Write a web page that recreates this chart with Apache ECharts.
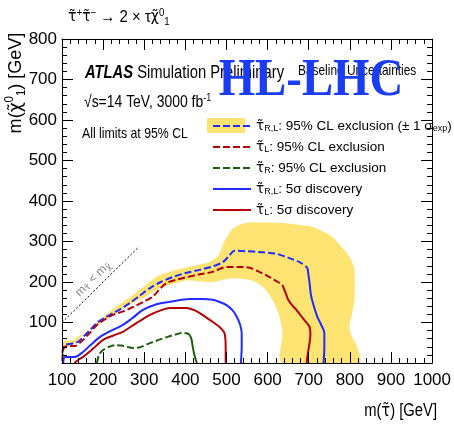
<!DOCTYPE html>
<html><head><meta charset="utf-8">
<script src="https://cdn.jsdelivr.net/npm/echarts@6/dist/echarts.min.js"></script>
<style>html,body{margin:0;padding:0;background:#fff}#c{width:454px;height:424px}</style>
</head><body><div id="c"></div>
<script>
// ---- tick labels ----
const xTickValues = [100, 200, 300, 400, 500, 600, 700, 800, 900, 1000];
const xTickLabels = ['100', '200', '300', '400', '500', '600', '700', '800', '900', '1000'];
const yTickValues = [0, 100, 200, 300, 400, 500, 600, 700, 800];
const yTickLabels = ['', '100', '200', '300', '400', '500', '600', '700', '800'];

// ---- yellow +-1 sigma band (outline, outer edge then inner edge) ----
const bandOuter = [[100,52],[112,55],[127,57],[145,70],[160,81],[185,100],[216,128],[250,152],[282,175],[310,198],[338,217],[370,228],[403,236],[435,243],[459,250],[480,265],[491,292],[505,318],[520,335],[549,346],[580,347],[629,346],[670,342],[709,336],[740,322],[758,311],[775,292],[792,272],[805,250],[811,230],[812,190],[811,156],[805,120],[799,89],[805,65],[818,40],[823,0]];
const bandInner = [[636,0],[636,74],[629,114],[616,148],[600,175],[588,188],[570,200],[556,205],[515,209],[490,205],[466,200],[435,201],[403,204],[370,195],[338,185],[300,162],[272,148],[245,132],[216,114],[190,96],[168,86],[150,70],[136,52],[120,42],[112,40],[100,35]];

// ---- tau_RL 95% CL exclusion (blue dashed) ----
const exclRL = [[101,25],[103,38],[108,45],[125,48],[140,53],[151,64],[168,81],[185,99],[205,112],[224,123],[245,135],[265,148],[290,167],[314,185],[340,200],[369,212],[400,222],[435,230],[465,238],[491,249],[505,263],[520,277],[550,276],[580,274],[620,270],[653,259],[680,248],[697,235]];
const exclRLTail = [[697,235],[702,198],[705,170],[708,156],[714,135],[721,114],[730,95],[738,74],[738,40],[736,0]];

// ---- tau_L 95% CL exclusion (red dashed) ----
const exclL = [[101,5],[102,25],[105,38],[115,42],[131,42],[151,57],[168,75],[185,94],[205,108],[224,119],[250,128],[272,138],[300,152],[321,164],[340,185],[355,198],[380,206],[403,212],[435,219],[466,225],[500,237],[530,237],[556,235],[580,225],[605,212],[625,200],[636,193]];
const exclLTail = [[636,193],[645,170],[650,156],[660,142],[670,131],[686,110],[702,89],[704,70],[702,49],[698,25],[695,0]];

// ---- tau_R 95% CL exclusion (green dashed) ----
const exclR = [[185,0],[190,20],[200,32],[214,40],[228,44],[245,43],[258,40],[272,37],[290,39],[314,49],[335,57],[355,64],[375,70],[394,74],[405,73],[411,69]];
const exclRTail = [[411,69],[415,58],[418,40],[422,20],[428,0]];

// ---- tau_RL 5 sigma discovery (blue solid) ----
const discRL = [[103,0],[104,10],[107,15],[131,15],[151,27],[170,45],[192,64],[220,80],[248,94],[270,110],[297,131],[330,145],[362,151],[411,158],[440,158],[466,156],[485,150],[500,143],[515,130],[525,114],[533,95],[537,74],[537,40],[535,0]];

// ---- tau_L 5 sigma discovery (red solid) ----
const discL = [[130,0],[140,8],[151,15],[175,35],[200,57],[225,68],[248,77],[280,98],[314,119],[340,130],[362,136],[403,136],[420,131],[435,123],[460,106],[483,89],[495,74],[498,40],[498,0]];

// ---- kinematic limit m(stau) = m(chi) ----
const diagonal = [[100,100],[285,285]];

const SANS = "'Liberation Sans',Arial,Helvetica,sans-serif";
const DJ = "'DejaVu Sans',sans-serif";
const BLUE = '#1f2bff', RED = '#b40000', GREEN = '#1d5f0c', YELLOW = '#fde372';
const DASH = [7, 3];
const SX = 0.82; // horizontal squeeze of the reference's lettering

const TAU = '{t|\u03C4\u0303}';
const CHI = '{t|\u03C7\u0303}';

const legendText = {
  exclRL: TAU + '{s|R,L}: 95% CL exclusion (\u00B1 1 \u03C3{s|exp})',
  exclL: TAU + '{s|L}: 95% CL exclusion',
  exclR: TAU + '{s|R}: 95% CL exclusion',
  discRL: TAU + '{s|R,L}: 5\u03C3 discovery',
  discL: TAU + '{s|L}: 5\u03C3 discovery'
};

function lineSeries(name, data, color, dashed, z) {
  return {
    type: 'line', name: name, data: data, showSymbol: false, symbol: 'none',
    smooth: 0.3, z: z || 3, silent: true,
    lineStyle: { color: color, width: 2, type: dashed ? DASH : 'solid' },
    itemStyle: { color: color }
  };
}

function axisCommon(extra) {
  return Object.assign({
    type: 'value', z: 6,
    axisLine: { show: true, onZero: false, lineStyle: { color: '#000', width: 1 } },
    axisTick: { show: true, inside: true, length: 11, lineStyle: { color: '#000' } },
    minorTick: { show: true, splitNumber: 5, length: 5, lineStyle: { color: '#000' } },
    splitLine: { show: false }
  }, extra);
}

const chart = echarts.init(document.getElementById('c'), null, { renderer: 'canvas' });
chart.setOption({
  animation: false,
  backgroundColor: '#fff',
  grid: { left: 62, right: 20, top: 39, bottom: 61, show: false },
  xAxis: [
    axisCommon({ position: 'bottom', min: 100, max: 1000, interval: 100,
      axisLabel: { margin: 9, fontSize: 17, fontFamily: SANS, color: '#000',
        formatter: v => { const i = xTickValues.indexOf(v); return i >= 0 ? xTickLabels[i] : ''; } } }),
    axisCommon({ position: 'top', min: 100, max: 1000, interval: 100, axisLabel: { show: false } })
  ],
  yAxis: [
    axisCommon({ position: 'left', min: 0, max: 800, interval: 100,
      axisLabel: { margin: 5, fontSize: 17, fontFamily: SANS, color: '#000',
        formatter: v => { const i = yTickValues.indexOf(v); return i >= 0 ? yTickLabels[i] : ''; } } }),
    axisCommon({ position: 'right', min: 0, max: 800, interval: 100, axisLabel: { show: false } })
  ],
  legend: {
    orient: 'vertical', left: 207, top: 114, itemWidth: 38, itemHeight: 14, itemGap: 7,
    data: ['exclRL', 'exclL', 'exclR', 'discRL', 'discL'],
    formatter: n => legendText[n],
    itemStyle: { opacity: 0 },
    textStyle: { fontFamily: SANS, fontSize: 13.5, color: '#000', lineHeight: 14,
      rich: {
        s: { fontSize: 9, fontFamily: SANS, lineHeight: 9, verticalAlign: 'bottom', padding: [5, 0, 0, 0] },
        t: { fontSize: 13.5, fontFamily: DJ, lineHeight: 14 }
      } },
    selectedMode: false
  },
  graphic: [
    { type: 'rect', left: 207, top: 118, z: 0, shape: { width: 38, height: 15 }, style: { fill: YELLOW } },
    { type: 'text', x: 68, y: 17, scaleX: 0.88, style: {
        text: TAU + '{sp|+}' + TAU + '{sp|\u2212} \u2192 2 \u00D7 \u03C4' + CHI + '{sp|0}{sb|1}',
        font: "17px " + SANS, fill: '#000', verticalAlign: 'middle', lineHeight: 20,
        rich: { t: { fontSize: 16, fontFamily: DJ, lineHeight: 20 },
                sp: { fontSize: 11, lineHeight: 10, verticalAlign: 'top', fontFamily: SANS },
                sb: { fontSize: 11, lineHeight: 10, verticalAlign: 'bottom', fontFamily: SANS } } } },
    { type: 'text', x: 16, y: 83, rotation: Math.PI / 2, scaleX: 0.95, style: {
        text: 'm(' + CHI + '{sp|0}{sb|1}) [GeV]', font: "19px " + SANS, fill: '#000',
        align: 'center', verticalAlign: 'middle', lineHeight: 24,
        rich: { t: { fontSize: 18, fontFamily: DJ, lineHeight: 24 },
                sp: { fontSize: 12, lineHeight: 12, verticalAlign: 'top', fontFamily: SANS },
                sb: { fontSize: 12, lineHeight: 12, verticalAlign: 'bottom', fontFamily: SANS } } } },
    { type: 'text', x: 437, y: 411, scaleX: SX, style: {
        text: 'm(' + TAU + ') [GeV]', font: "18px " + SANS, fill: '#000', align: 'right', verticalAlign: 'middle',
        rich: { t: { fontSize: 18, fontFamily: DJ } } } },
    { type: 'text', x: 85, y: 73, z: 10, scaleX: SX, style: {
        text: '{b|ATLAS} Simulation Preliminary', font: "18px " + SANS, fill: '#000', verticalAlign: 'middle',
        rich: { b: { fontWeight: 'bold', fontStyle: 'italic', fontSize: 18, fontFamily: SANS } } } },
    { type: 'text', x: 298, y: 71, z: 10, scaleX: SX, style: {
        text: 'Baseline Uncertainties', font: "14.5px " + SANS, fill: '#000', verticalAlign: 'middle' } },
    { type: 'text', x: 311, y: 82, z: 11, scaleX: 0.9, style: {
        text: 'HL-LHC', font: "bold 52px 'Liberation Serif','Times New Roman',serif", fill: '#1a3cf2',
        align: 'center', verticalAlign: 'middle' } },
    { type: 'text', x: 84, y: 102, z: 10, scaleX: SX, style: {
        text: '\u221As=14 TeV, 3000 fb{sp|-1}', font: "17px " + SANS, fill: '#000', verticalAlign: 'middle', lineHeight: 20,
        rich: { sp: { fontSize: 11, lineHeight: 10, verticalAlign: 'top', fontFamily: SANS } } } },
    { type: 'text', x: 82, y: 134, z: 10, scaleX: SX, style: {
        text: 'All limits at 95% CL', font: "15px " + SANS, fill: '#000', verticalAlign: 'middle' } },
    { type: 'text', x: 93, y: 279, z: 10, rotation: Math.PI / 4, style: {
        text: 'm{sb|\u03C4\u0303} < m{sb|\u03C7\u0303}', font: "12px " + SANS, fill: '#888',
        align: 'center', verticalAlign: 'middle', lineHeight: 14,
        rich: { sb: { fontSize: 9, lineHeight: 8, verticalAlign: 'bottom', fontFamily: DJ, fill: '#888', color: '#888' } } } }
  ],
  series: [
    {
      type: 'custom', name: 'band', silent: true, z: 1, clip: true,
      data: [[100, 0]],
      renderItem: function (params, api) {
        const pts = bandOuter.concat(bandInner).map(p => api.coord(p));
        return { type: 'polygon', shape: { points: pts, smooth: 0.3 }, style: { fill: YELLOW } };
      }
    },
    { type: 'line', name: 'diag', data: diagonal, showSymbol: false, symbol: 'none', silent: true, z: 2,
      lineStyle: { color: '#000', width: 1, type: [2, 2] } },
    lineSeries('exclRL', exclRL, BLUE, true),
    lineSeries('exclRLTail', exclRLTail, BLUE, false),
    lineSeries('exclL', exclL, RED, true),
    lineSeries('exclLTail', exclLTail, RED, false),
    lineSeries('exclR', exclR, GREEN, true),
    lineSeries('exclRTail', exclRTail, GREEN, false),
    lineSeries('discRL', discRL, BLUE, false),
    lineSeries('discL', discL, RED, false)
  ]
});
</script></body></html>
